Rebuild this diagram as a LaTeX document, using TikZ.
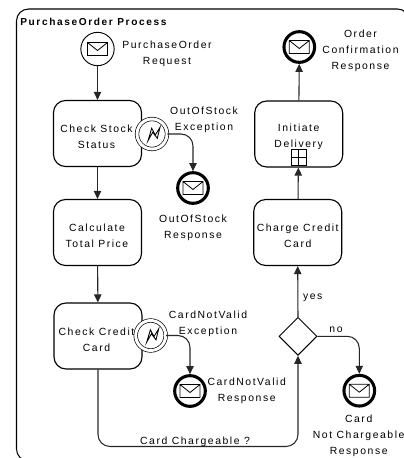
\documentclass[tikz,border=0pt]{standalone}
\usepackage{fontspec}
\setmainfont{Liberation Sans}
\usetikzlibrary{arrows.meta,shapes.geometric,calc}
\tikzset{x=0.75pt,y=-0.75pt,
  flowline/.style={draw=black!85,line width=0.8pt,rounded corners=9pt,-{Triangle[length=6pt,width=5.5pt]}},
  lab/.style={font=\fontsize{7.8pt}{11.85pt}\selectfont\addfontfeature{LetterSpace=15},align=center,inner sep=0pt},
  taskbox/.style={draw,line width=0.85pt,rounded corners=9pt,minimum width=66pt,minimum height=49.5pt,inner sep=0pt},
  startev/.style={circle,draw,line width=0.7pt,minimum size=25pt,inner sep=0pt},
  endev/.style={circle,draw,line width=2.3pt,minimum size=23pt,inner sep=0pt},
  errev/.style={circle,draw,double,double distance=2.2pt,line width=0.5pt,fill=white,minimum size=22.5pt,inner sep=0pt},
  gate/.style={diamond,draw,line width=0.7pt,aspect=1,minimum size=28.5pt,inner sep=0pt}}
% envelope glyph drawn inside an event
\newcommand{\envelope}[1]{\draw[line width=0.6pt] ($(#1)+(-10,-6.5)$) rectangle ($(#1)+(10,6.5)$)
  ($(#1)+(-10,-6.5)$) -- ($(#1)+(0,1.5)$) -- ($(#1)+(10,-6.5)$);}
% lightning glyph drawn inside an error event
\newcommand{\bolt}[1]{\draw[line width=0.65pt] ($(#1)+(-4,6.7)$) -- ($(#1)+(-0.3,-5.7)$) -- ($(#1)+(3.3,1)$) -- ($(#1)+(8,-6.7)$) -- ($(#1)+(5.3,4.3)$) -- ($(#1)+(0.7,-1.7)$) -- cycle;}
\begin{document}
\begin{tikzpicture}
\useasboundingbox (0,0) rectangle (404,458);
\draw[line width=0.8pt,rounded corners=9pt] (16.5,9) rectangle (409.5,461);
\node[lab,anchor=west,font=\fontsize{7.6pt}{11.6pt}\selectfont\bfseries\addfontfeature{LetterSpace=16}] (title) at (20,22) {PurchaseOrder Process};

% left column
\node[startev] (start) at (97.5,49) {};
\node[taskbox] (stock) at (97.5,133.5) {};
\node[taskbox] (price) at (97.5,232.5) {};
\node[taskbox] (credit) at (98,336) {};
\node[errev] (stockerr) at (152,134) {};
\node[errev] (crediterr) at (150.7,335.5) {};
\node[endev] (stockend) at (193,188) {};
\node[endev] (creditend) at (190,391) {};

% right column
\node[endev] (confirm) at (299.3,47) {};
\node[taskbox] (deliver) at (298.7,134) {};
\node[taskbox] (charge) at (297.7,232.5) {};
\node[gate] (check) at (298,336.3) {};
\node[endev] (reject) at (359.3,390.7) {};

% task texts
\node[lab] (stocklab) at (96.5,137) {Check Stock\\Status};
\node[lab] (pricelab) at (97,235.5) {Calculate\\Total Price};
\node[lab] (creditlab) at (96.5,339.5) {Check Credit\\Card};
\node[lab] (deliverlab) at (298.7,137) {Initiate\\Delivery};
\node[lab] (chargelab) at (297.7,236) {Charge Credit\\Card};

\node[lab] (startlab) at (167,54) {PurchaseOrder\\Request};
\node[lab] (stockerrlab) at (204,120) {OutOfStock\\Exception};
\node[lab] (stockendlab) at (193,228) {OutOfStock\\Response};
\node[lab] (crediterrlab) at (208,324) {CardNotValid\\Exception};
\node[lab] (creditendlab) at (246.7,391) {CardNotValid\\Response};
\node[lab] (confirmlab) at (360.5,51) {Order\\Confirmation\\Response};
\node[lab] (rejectlab) at (358.7,435.7) {Card\\Not Chargeable\\Response};
\node[lab] (yeslab) at (312.7,298) {yes};
\node[lab] (nolab) at (336,330) {no};
\node[lab] (asklab) at (195,441.5) {Card Chargeable ?};

\foreach \ev in {start,stockend,creditend,confirm,reject} {\envelope{\ev}}
\foreach \ev in {stockerr,crediterr} {\bolt{\ev}}

% expand marker
\node[draw,line width=0.7pt,minimum size=11.5pt,inner sep=0pt,anchor=south] (marker) at ([yshift=1.5pt]deliver.south) {};
\draw[line width=0.6pt] (marker.north) -- (marker.south) (marker.west) -- (marker.east);

\coordinate (bend) at (198,446.5);
\draw[flowline] (start) -- (stock);
\draw[flowline] (stock) -- (price);
\draw[flowline] (price) -- (credit);
\draw[flowline] (stockerr.east) -| (stockend.north);
\draw[flowline] (crediterr.east) -| (creditend.north);
\draw[flowline] (credit.south) |- (bend) -| (check.south);
\draw[flowline] (check.north) -- (charge.south);
\draw[flowline] (charge) -- (deliver);
\draw[flowline] (deliver) -- (confirm);
\draw[flowline] (check.east) -| (reject.north);
\end{tikzpicture}
\end{document}
